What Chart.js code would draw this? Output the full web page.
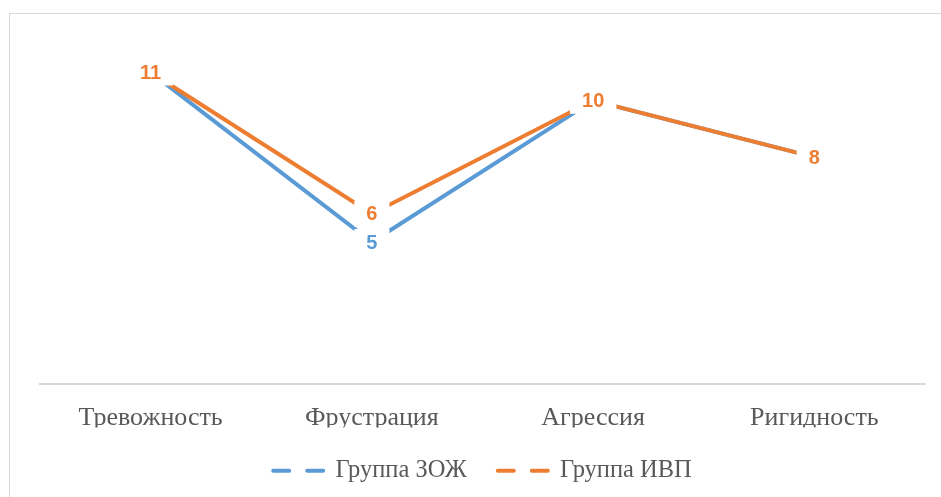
<!DOCTYPE html>
<html>
<head>
<meta charset="utf-8">
<script src="https://cdn.jsdelivr.net/npm/chart.js@4/dist/chart.umd.min.js"></script>
<style>
  html, body { margin: 0; padding: 0; background: #fff; }
  #wrap { width: 941px; height: 497px; position: relative; }
</style>
</head>
<body>
<div id="wrap"><canvas id="chart" width="941" height="497"></canvas></div>
<script>
// Scale categories and series values
const categories = ['Тревожность', 'Фрустрация', 'Агрессия', 'Ригидность'];
const seriesNames = ['Группа ЗОЖ', 'Группа ИВП'];
const zozhValues = [11, 5, 10, 8];
const ivpValues = [11, 6, 10, 8];

const BLUE = '#5B9BD5';
const ORANGE = '#ED7D31';
const TEXT_GRAY = '#595959';

// Outer frame of the chart object
const framePlugin = {
  id: 'frame',
  beforeDraw(chart) {
    const ctx = chart.ctx;
    ctx.save();
    ctx.fillStyle = '#ffffff';
    ctx.fillRect(0, 0, chart.width, chart.height);
    ctx.strokeStyle = '#d9d9d9';
    ctx.lineWidth = 1;
    ctx.strokeRect(9.5, 13.5, chart.width + 20, chart.height + 20);
    ctx.restore();
  }
};

// Value labels centred on each point, on a white box that hides the line beneath
const valueLabels = {
  id: 'valueLabels',
  afterDatasetsDraw(chart) {
    const ctx = chart.ctx;
    ctx.save();
    ctx.font = 'bold 20px "Liberation Sans", Arial, sans-serif';
    ctx.textAlign = 'center';
    ctx.textBaseline = 'middle';
    chart.data.datasets.forEach((ds, i) => {
      const meta = chart.getDatasetMeta(i);
      meta.data.forEach((pt, j) => {
        const text = String(ds.data[j]);
        const w = ctx.measureText(text).width;
        const hw = w / 2 + 12;
        const hh = 13;
        ctx.fillStyle = '#ffffff';
        ctx.fillRect(pt.x - hw, pt.y - hh, hw * 2, hh * 2);
        ctx.fillStyle = ds.borderColor;
        ctx.fillText(text, pt.x, pt.y + 1);
      });
    });
    ctx.restore();
  }
};

new Chart(document.getElementById('chart'), {
  type: 'line',
  data: {
    labels: categories,
    datasets: [
      {
        label: seriesNames[0],
        data: zozhValues,
        borderColor: BLUE,
        backgroundColor: BLUE,
        borderWidth: 4,
        pointRadius: 0,
        tension: 0,
        borderCapStyle: 'round',
        order: 1
      },
      {
        label: seriesNames[1],
        data: ivpValues,
        borderColor: ORANGE,
        backgroundColor: ORANGE,
        borderWidth: 4,
        pointRadius: 0,
        tension: 0,
        borderCapStyle: 'round',
        order: 0
      }
    ]
  },
  options: {
    responsive: false,
    animation: false,
    devicePixelRatio: 1,
    layout: { padding: { left: 40, right: 16, top: 44, bottom: 4 } },
    scales: {
      x: {
        offset: true,
        grid: { display: false, drawTicks: false },
        border: { display: true, color: '#d9d9d9', width: 2 },
        ticks: {
          color: TEXT_GRAY,
          padding: 19,
          maxRotation: 0,
          font: { family: '"Liberation Serif", "Times New Roman", serif', size: 26 }
        },
        afterFit(scale) { scale.height = 44; }
      },
      y: {
        display: false,
        min: 0,
        max: 12
      }
    },
    plugins: {
      legend: {
        position: 'bottom',
        labels: {
          color: TEXT_GRAY,
          font: { family: '"Liberation Serif", "Times New Roman", serif', size: 24.5 },
          usePointStyle: true,
          pointStyleWidth: 50,
          padding: 31,
          generateLabels(chart) {
            return chart.data.datasets.map((ds, i) => ({
              text: ds.label,
              fillStyle: ds.borderColor,
              strokeStyle: ds.borderColor,
              fontColor: TEXT_GRAY,
              lineWidth: 4,
              lineDash: [16, 18],
              lineCap: 'round',
              pointStyle: 'line',
              hidden: false,
              datasetIndex: i
            }));
          }
        }
      },
      tooltip: { enabled: false }
    }
  },
  plugins: [framePlugin, valueLabels]
});
</script>
</body>
</html>
